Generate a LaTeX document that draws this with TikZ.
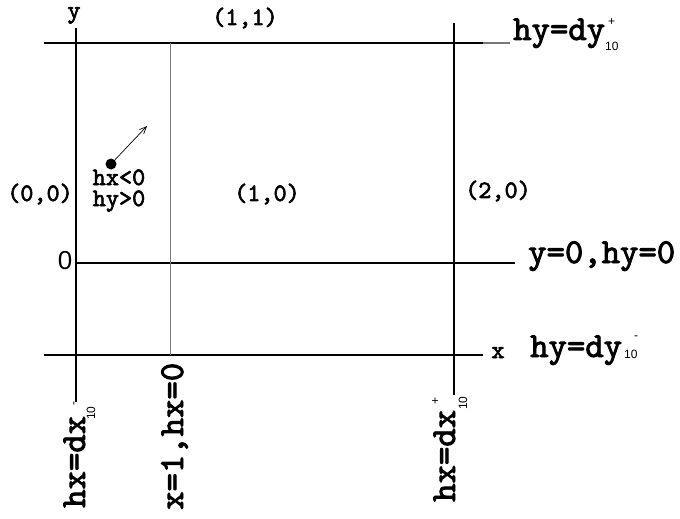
\documentclass[tikz,border=0pt]{standalone}
\usepackage{fontspec}
\setmainfont{Liberation Sans}
\setmonofont{lmmono10-regular.otf}[FakeBold=2.5]
\usetikzlibrary{arrows.meta, positioning}
\definecolor{midgray}{RGB}{120, 120, 120}

\newcommand{\bigfnt}{\ttfamily\fontsize{35}{35}\selectfont}
\newcommand{\smallfnt}{\ttfamily\fontsize{25}{18}\selectfont}
\newcommand{\scrfnt}{\rmfamily\fontsize{12}{12}\selectfont}
% #1 sup, #2 sub, #3 lower sub, #4 kern before sup, #5 raise sup
\newcommand{\supsub}[5]{\rlap{\raisebox{-#3}{\scrfnt #2}}\kern#4\raisebox{#5}{\scrfnt #1}}

\begin{document}
\begin{tikzpicture}[x=1pt, y=-1pt,
  axis/.style={line width=1.3pt, black},
  bigl/.style={font=\bigfnt, inner sep=0pt},
  smalll/.style={font=\smallfnt, inner sep=0pt}]
  \useasboundingbox (0,0) rectangle (680,519);

  % ---- Grid lines ----
  \coordinate (top-l) at (44,43);   \coordinate (top-m) at (483,43);  \coordinate (top-r) at (510,43);
  \coordinate (mid-l) at (76,263);  \coordinate (mid-r) at (515,263);
  \coordinate (bot-l) at (44,355);  \coordinate (bot-r) at (483,355);
  \coordinate (v0-t) at (76,28);    \coordinate (v0-b) at (76,402);
  \coordinate (v1-t) at (170,43);   \coordinate (v1-b) at (170,355);
  \coordinate (v2-t) at (454,23);   \coordinate (v2-b) at (454,395);
  \draw[axis] (top-l) -- (top-m);
  \draw[line width=1.3pt, midgray] (top-m) -- (top-r);
  \draw[axis] (mid-l) -- (mid-r);
  \draw[axis] (bot-l) -- (bot-r);
  \draw[axis] (v0-t) -- (v0-b);
  \draw[line width=1pt, midgray] (v1-t) -- (v1-b);
  \draw[axis] (v2-t) -- (v2-b);

  % ---- Cell labels ----
  \node[smalll, anchor=base] (ylab) at (74,18) {y};
  \node[smalll, anchor=base] (xlab) at (498,358) {x};
  \node[smalll] (c11) at (245,18) {(1,1)};
  \node[smalll] (c00) at (40,194) {(0,0)};
  \node[smalll] (c10) at (267,194) {(1,0)};
  \node[smalll] (c20) at (498,191) {(2,0)};
  \node[font=\rmfamily\fontsize{26}{26}\selectfont, inner sep=0pt] (zero) at (65,261) {0};

  % ---- Point with direction ----
  \node[circle, fill=black, inner sep=0pt, minimum size=11pt] (dot) at (111,164) {};
  \coordinate (tip) at (147,126);
  \draw[line width=0.7pt, -{Straight Barb[length=7pt, width=6pt]}] (dot) -- (tip);
  \node[smalll, anchor=base] (hxneg) at (119,185) {hx<0};
  \node[smalll, anchor=base] (hypos) at (119,206) {hy>0};

  % ---- Boundary labels ----
  \node[bigl, anchor=base west] (hytop) at (513,40) {hy=dy\supsub{+}{10}{11pt}{3pt}{14pt}};
  \node[bigl, anchor=base west] (hyzero) at (528,263) {y=0,hy=0};
  \node[bigl, anchor=base west] (hybot) at (530,357) {hy=dy\kern2pt\supsub{-}{10}{1pt}{10pt}{18pt}};
  \node[bigl, anchor=base west, rotate=90] (hxleft) at (85,508) {hx=dx\kern-4pt\supsub{-}{10}{10pt}{14pt}{8pt}};
  \node[bigl, anchor=base west, rotate=90] (hxzero) at (183,510) {x=1,hx=0};
  \node[bigl, anchor=base west, rotate=90] (hxright) at (455,502) {hx=dx\supsub{+}{10}{12pt}{5pt}{16pt}};
\end{tikzpicture}
\end{document}
